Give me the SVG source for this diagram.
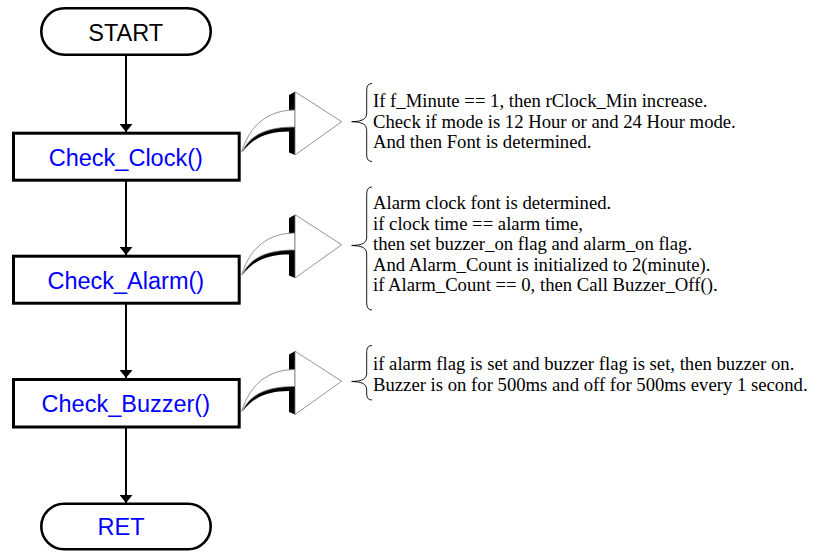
<svg xmlns="http://www.w3.org/2000/svg" xmlns:xlink="http://www.w3.org/1999/xlink" width="816" height="552" viewBox="0 0 816 552">
  <style>
    .term { fill: #fff; stroke: #000; stroke-width: 2.6; }
    .proc { fill: #fff; stroke: #000; stroke-width: 3; }
    .label { font-family: "Liberation Sans", Arial, sans-serif; font-size: 23.5px; text-anchor: middle; }
    .blue { fill: #0000ff; }
    .black { fill: #000; }
    .flow { stroke: #000; stroke-width: 2; fill: none; marker-end: url(#head); }
    .note { font-family: "Liberation Serif", "Times New Roman", serif; font-size: 18.7px; fill: #000; }
    .brace { fill: none; stroke: #000; stroke-width: 0.9; }
    .shade { fill: #000; }
    .body { fill: #fff; stroke: #777; stroke-width: 0.8; }
  </style>
  <defs>
    <marker id="head" markerWidth="8" markerHeight="13" refX="8" refY="6.5" orient="auto" markerUnits="userSpaceOnUse" viewBox="0 0 8 13">
      <path d="M0,0 L8,6.5 L0,13 Z" fill="#000"/>
    </marker>
    <!-- curved block arrow pointing right, with dark 3D shading -->
    <g id="curved-arrow">
      <path class="shade" d="M289,95 L295,91.7 L295,111 L289,111 Z"/>
      <path class="shade" d="M242.5,152 C251,132 269,126.5 295,126.5 L295,155 L289,152.5 L289,131.5 C268,131.5 254,137 242.5,152 Z"/>
      <path class="body" d="M241.7,151.7 C250,125 268,110 295,110 L295,127 C270,127 252,133 243,150 Z"/>
      <path class="body" d="M295,91.7 L341.7,121.7 L295,155 Z"/>
    </g>
  </defs>

  <!-- connectors -->
  <g id="connectors">
    <line class="flow" x1="126" y1="56" x2="126" y2="132"/>
    <line class="flow" x1="126" y1="181" x2="126" y2="255"/>
    <line class="flow" x1="126" y1="304" x2="126" y2="378"/>
    <line class="flow" x1="126" y1="428" x2="126" y2="503"/>
  </g>

  <g id="start">
    <rect class="term" x="41.3" y="8.3" width="169.4" height="46.4" rx="23.2"/>
    <text class="label black" x="125.7" y="40.5">START</text>
  </g>

  <g id="check-clock">
    <rect class="proc" x="13.5" y="133.2" width="225.7" height="47"/>
    <text class="label blue" x="125.8" y="165.5">Check_Clock()</text>
  </g>

  <g id="check-alarm">
    <rect class="proc" x="13.5" y="256.2" width="225.7" height="47"/>
    <text class="label blue" x="125.8" y="288.5">Check_Alarm()</text>
  </g>

  <g id="check-buzzer">
    <rect class="proc" x="13.5" y="379.5" width="225.7" height="47.5"/>
    <text class="label blue" x="125.8" y="412">Check_Buzzer()</text>
  </g>

  <g id="ret">
    <rect class="term" x="41.3" y="503.8" width="169.4" height="45.4" rx="22.7"/>
    <text class="label blue" x="121" y="534.5">RET</text>
  </g>

  <!-- Check_Clock note -->
  <g id="note-clock">
    <use xlink:href="#curved-arrow"/>
    <path class="brace" d="M372,83.5 Q366.7,83.5 366.7,90 L366.7,114 Q366.7,121.7 351.7,121.7 Q366.7,121.7 366.7,129.5 L366.7,155 Q366.7,161.5 372,161.5"/>
    <text class="note" x="373" y="107">If f_Minute == 1, then rClock_Min increase.</text>
    <text class="note" x="373" y="127.5">Check if mode is 12 Hour or and 24 Hour mode.</text>
    <text class="note" x="373" y="148">And then Font is determined.</text>
  </g>

  <!-- Check_Alarm note -->
  <g id="note-alarm">
    <use xlink:href="#curved-arrow" transform="translate(0,123)"/>
    <path class="brace" d="M372,187 Q366.7,187 366.7,194 L366.7,238 Q366.7,245.5 351.7,245.5 Q366.7,245.5 366.7,253 L366.7,303 Q366.7,310 372,310"/>
    <text class="note" x="373" y="209">Alarm clock font is determined.</text>
    <text class="note" x="373" y="229.5">if clock time == alarm time,</text>
    <text class="note" x="373" y="250">then set buzzer_on flag and alarm_on flag.</text>
    <text class="note" x="373" y="270.5">And Alarm_Count is initialized to 2(minute).</text>
    <text class="note" x="373" y="291">if Alarm_Count == 0, then Call Buzzer_Off().</text>
  </g>

  <!-- Check_Buzzer note -->
  <g id="note-buzzer">
    <use xlink:href="#curved-arrow" transform="translate(0,259.5)"/>
    <path class="brace" d="M372,345.5 Q366.7,345.5 366.7,351.5 L366.7,374 Q366.7,381.5 351.7,381.5 Q366.7,381.5 366.7,389 L366.7,394 Q366.7,400 372,400"/>
    <text class="note" x="373" y="370">if alarm flag is set and buzzer flag is set, then buzzer on.</text>
    <text class="note" x="373" y="390.5">Buzzer is on for 500ms and off for 500ms every 1 second.</text>
  </g>
</svg>
